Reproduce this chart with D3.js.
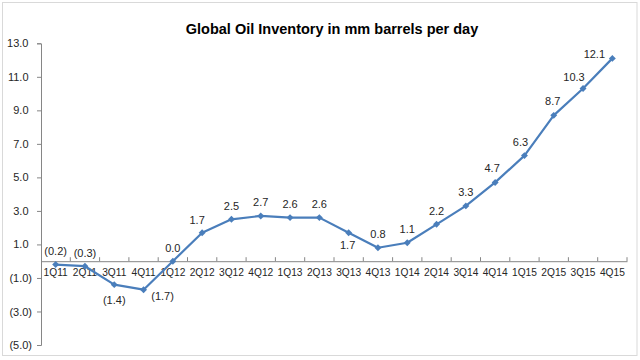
<!DOCTYPE html>
<html>
<head>
<meta charset="utf-8">
<script src="https://cdn.jsdelivr.net/npm/d3@7"></script>
<style>
  html, body { margin: 0; padding: 0; background: #ffffff; }
  svg { display: block; font-family: "Liberation Sans", Arial, sans-serif; }
</style>
</head>
<body>
<svg id="chart" width="640" height="360"></svg>
<script>
// ---- data ----
const quarters = ["1Q11","2Q11","3Q11","4Q11","1Q12","2Q12","3Q12","4Q12","1Q13","2Q13",
                  "3Q13","4Q13","1Q14","2Q14","3Q14","4Q14","1Q15","2Q15","3Q15","4Q15"];
const inventory = [-0.2,-0.3,-1.4,-1.7,0.0,1.7,2.5,2.7,2.6,2.6,
                   1.7,0.8,1.1,2.2,3.3,4.7,6.3,8.7,10.3,12.1];
const yTicks = [-5,-3,-1,1,3,5,7,9,11,13];
const title = "Global Oil Inventory in mm barrels per day";

// ---- layout ----
const W = 640, H = 360;
const svg = d3.select("#chart");
const plot = { left: 41, right: 627, top: 43.3, bottom: 345 };
const lineColor = "#4A7EBB";
const axisColor = "#868686";
const textColor = "#262626";

svg.append("rect").attr("x", 2.5).attr("y", 2.5).attr("width", 634.5).attr("height", 353)
  .attr("fill", "#fff").attr("stroke", "#d9d9d9").attr("stroke-width", 1);

const x = d3.scaleBand().domain(quarters).range([plot.left, plot.right]).paddingInner(0).paddingOuter(0);
const y = d3.scaleLinear().domain([-5, 13]).range([plot.bottom, plot.top]);
const cx = d => x(d) + x.bandwidth() / 2;

const fmt = v => {
  const s = d3.format(".1f")(Math.abs(v));
  return v < 0 ? "(" + s + ")" : s;
};

// title
svg.append("text").attr("x", 332).attr("y", 34).attr("text-anchor", "middle")
  .attr("font-weight", "bold").attr("font-size", 14.5).attr("fill", "#000")
  .text(title);

// y axis
const yAxis = d3.axisLeft(y).tickValues(yTicks).tickSize(4).tickFormat(fmt);
const gy = svg.append("g").attr("transform", `translate(${plot.left},0)`).call(yAxis);
gy.select(".domain").attr("stroke", axisColor);
gy.selectAll(".tick line").attr("stroke", axisColor);
gy.selectAll(".tick text").attr("font-size", 11).attr("fill", textColor)
  .attr("font-family", "Liberation Sans, Arial, sans-serif")
  .attr("x", d => d < 0 ? -9 : -12.5);

// x axis at zero
const xAxis = d3.axisBottom(x).tickSize(0).tickSizeOuter(0);
const gx = svg.append("g").attr("transform", `translate(0,${y(0)})`).call(xAxis);
gx.select(".domain").attr("stroke", axisColor);
gx.selectAll(".tick text").attr("font-size", 10.2).attr("fill", textColor)
  .attr("font-family", "Liberation Sans, Arial, sans-serif").attr("y", 7.5);
// band boundary tick marks
gx.selectAll(".bound").data(quarters.slice(1).concat(["end"])).enter().append("line")
  .attr("class", "bound")
  .attr("x1", (d, i) => plot.left + (i + 1) * x.bandwidth())
  .attr("x2", (d, i) => plot.left + (i + 1) * x.bandwidth())
  .attr("y1", -4).attr("y2", 0).attr("stroke", axisColor);

// line
const pts = quarters.map((q, i) => ({ q, v: inventory[i], i }));
svg.append("path").datum(pts)
  .attr("fill", "none").attr("stroke", lineColor).attr("stroke-width", 2.2)
  .attr("stroke-linejoin", "round")
  .attr("d", d3.line().x(d => cx(d.q)).y(d => y(d.v)));

// markers
svg.selectAll(".mk").data(pts).enter().append("path").attr("class", "mk")
  .attr("d", d3.symbol(d3.symbolSquare, 24)())
  .attr("transform", d => `translate(${cx(d.q)},${y(d.v)}) rotate(45)`)
  .attr("fill", lineColor);

// data labels (placement offsets are styling)
const labelOffset = i => {
  if (i === 2) return [0, 15];
  if (i === 3) return [19, 6];
  if (i === 10) return [-1, 12];
  if (i === 19) return [-18, -4];
  if (i === 18) return [-9, -11];
  if (i === 17) return [-1, -14];
  if (i === 16) return [-4, -13];
  if (i === 15) return [-3, -14];
  if (i === 5) return [-5, -13];
  return [0, -13.5];
};
svg.selectAll(".lbl").data(pts).enter().append("text").attr("class", "lbl")
  .attr("x", d => cx(d.q) + labelOffset(d.i)[0])
  .attr("y", d => y(d.v) + labelOffset(d.i)[1])
  .attr("dy", "0.35em")
  .attr("text-anchor", "middle").attr("font-size", 11).attr("fill", textColor)
  .text(d => fmt(d.v));
</script>
</body>
</html>
